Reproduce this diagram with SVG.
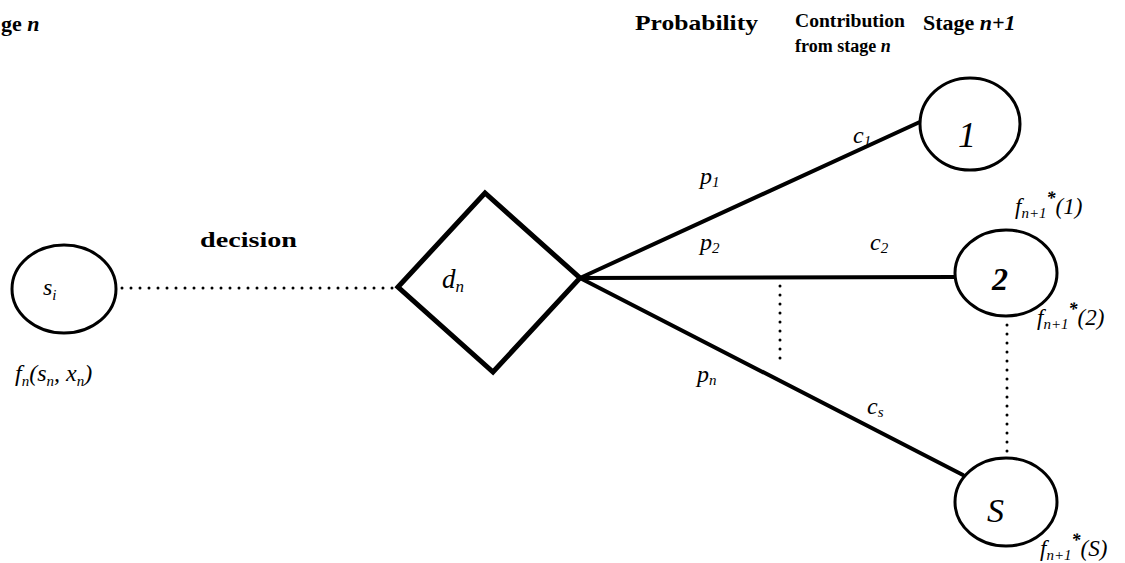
<svg xmlns="http://www.w3.org/2000/svg" width="1125" height="563" viewBox="0 0 1125 563">
<style>
.hdr{font-family:"Liberation Serif",serif;font-weight:bold;font-size:22px;fill:#000}
.m{font-family:"Liberation Serif",serif;font-style:italic;font-size:24px;fill:#000}
.sub{font-size:15px}
.node{fill:#fff;stroke:#000;stroke-width:3}
.conn{stroke:#000;stroke-width:4;fill:none;stroke-linecap:round}
.dot{stroke:#000;stroke-width:3;fill:none;stroke-linecap:round;stroke-dasharray:0 9}
</style>
<rect width="1125" height="563" fill="#fff"/>
<g id="headers">
<text class="hdr" x="1" y="31">ge <tspan font-style="italic">n</tspan></text>
<text class="hdr" x="635" y="30" textLength="123" lengthAdjust="spacingAndGlyphs">Probability</text>
<text class="hdr" x="795" y="27" style="font-size:19px" textLength="110" lengthAdjust="spacingAndGlyphs">Contribution</text>
<text class="hdr" x="795" y="52" style="font-size:18px">from stage <tspan font-style="italic">n</tspan></text>
<text class="hdr" x="923" y="30">Stage <tspan font-style="italic">n+1</tspan></text>
<text class="hdr" x="200" y="247" textLength="97" lengthAdjust="spacingAndGlyphs">decision</text>
</g>
<g id="connectors">
<line class="dot" x1="122" y1="288" x2="396" y2="288"/>
<line class="conn" x1="580" y1="278" x2="922" y2="121"/>
<line class="conn" x1="580" y1="278" x2="955" y2="277"/>
<line class="conn" x1="580" y1="278" x2="963" y2="475"/>
<line class="dot" x1="780" y1="286" x2="780" y2="364"/>
<line class="dot" x1="1007" y1="325" x2="1007" y2="455"/>
</g>
<g id="node-si">
<ellipse class="node" cx="64" cy="289" rx="52" ry="44"/>
<text class="m" x="43" y="295">s<tspan class="sub" dy="5">i</tspan></text>
<text class="m" x="15" y="381">f<tspan class="sub" dy="5">n</tspan><tspan dy="-5">(s</tspan><tspan class="sub" dy="5">n</tspan><tspan dy="-5">, x</tspan><tspan class="sub" dy="5">n</tspan><tspan dy="-5">)</tspan></text>
</g>
<g id="node-dn">
<polygon points="398,287 485,193 580,278 493,372" fill="#fff" stroke="#000" stroke-width="5" stroke-linejoin="miter"/>
<text class="m" x="442" y="288" style="font-size:27px">d<tspan class="sub" dy="4" style="font-size:17px">n</tspan></text>
</g>
<g id="node-1">
<ellipse class="node" cx="970" cy="124" rx="50" ry="46"/>
<text class="m" x="958" y="147" style="font-size:36px">1</text>
</g>
<g id="node-2">
<ellipse class="node" cx="1006" cy="273" rx="51" ry="43"/>
<text class="m" x="992" y="290" style="font-size:32px;font-weight:bold">2</text>
<text class="m" x="1015" y="214" style="font-size:23px">f<tspan class="sub" dy="4">n+1</tspan><tspan dy="-14" style="font-size:18px;font-weight:bold">*</tspan><tspan dy="10">(1)</tspan></text>
<text class="m" x="1037" y="325" style="font-size:23px">f<tspan class="sub" dy="4">n+1</tspan><tspan dy="-14" style="font-size:18px;font-weight:bold">*</tspan><tspan dy="10">(2)</tspan></text>
</g>
<g id="node-S">
<ellipse class="node" cx="1006" cy="502" rx="51" ry="44"/>
<text class="m" x="987" y="522" style="font-size:34px">S</text>
<text class="m" x="1040" y="556" style="font-size:23px">f<tspan class="sub" dy="4">n+1</tspan><tspan dy="-14" style="font-size:18px;font-weight:bold">*</tspan><tspan dy="10">(S)</tspan></text>
</g>
<g id="labels">
<text class="m" x="700" y="184">p<tspan class="sub" dy="3">1</tspan></text>
<text class="m" x="700" y="250">p<tspan class="sub" dy="3">2</tspan></text>
<text class="m" x="697" y="382">p<tspan class="sub" dy="3">n</tspan></text>
<text class="m" x="853" y="143">c<tspan class="sub" dy="3">1</tspan></text>
<text class="m" x="870" y="250">c<tspan class="sub" dy="3">2</tspan></text>
<text class="m" x="867" y="414">c<tspan class="sub" dy="3">s</tspan></text>
</g>
</svg>
